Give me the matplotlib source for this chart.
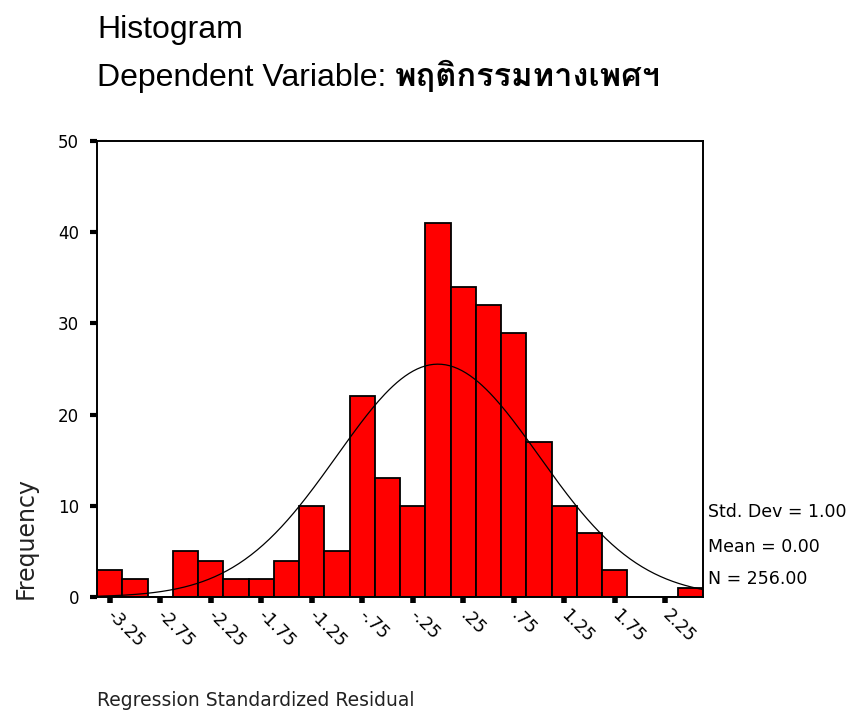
import numpy as np
import matplotlib
matplotlib.use("Agg")
import matplotlib.pyplot as plt
from matplotlib.transforms import ScaledTranslation

# histogram of regression standardized residuals (bin width .25)
bin_centers = [-3.25, -3.0, -2.75, -2.5, -2.25, -2.0, -1.75, -1.5, -1.25, -1.0,
               -0.75, -0.5, -0.25, 0.0, 0.25, 0.5, 0.75, 1.0, 1.25, 1.5,
               1.75, 2.0, 2.25, 2.5]
freq = [3, 2, 0, 5, 4, 2, 2, 4, 10, 5,
        22, 13, 10, 41, 34, 32, 29, 17, 10, 7,
        3, 0, 0, 1]
bin_width = 0.25

tick_pos = [-3.25, -2.75, -2.25, -1.75, -1.25, -0.75, -0.25, 0.25, 0.75, 1.25, 1.75, 2.25]
tick_labels = ["-3.25", "-2.75", "-2.25", "-1.75", "-1.25", "-.75", "-.25",
               ".25", ".75", "1.25", "1.75", "2.25"]

std_dev = 1.00
mean = 0.00
n = 256

fig = plt.figure(figsize=(8.5, 7.17), dpi=100)
ax = fig.add_axes([97 / 850, 1 - 597 / 717, 606 / 850, 456 / 717])

ax.bar(bin_centers, freq, width=bin_width, color="#ff0000", edgecolor="black", linewidth=1.3)

# fitted normal curve
xs = np.linspace(-3.375, 2.625, 300)
pdf = np.exp(-0.5 * ((xs - mean) / std_dev) ** 2) / (std_dev * np.sqrt(2 * np.pi))
ax.plot(xs, n * bin_width * pdf, color="black", linewidth=0.9)

ax.set_xlim(-3.375, 2.625)
ax.set_ylim(0, 50)
ax.set_yticks([0, 10, 20, 30, 40, 50])
ax.set_xticks(tick_pos)
ax.set_xticklabels(tick_labels, rotation=-45, ha="left", va="center",
                   rotation_mode="anchor", fontsize=12.5, family="DejaVu Sans")
for lbl in ax.get_xticklabels():
    lbl.set_transform(lbl.get_transform() + ScaledTranslation(0.1, 0, fig.dpi_scale_trans))
ax.tick_params(axis="x", length=4, width=4, pad=7, direction="out")
ax.tick_params(axis="y", length=5, width=3, pad=8, direction="out", labelsize=12)
for s in ax.spines.values():
    s.set_linewidth(1.4)

# titles
fig.text(97 / 850, 1 - 38 / 717, "Histogram", fontsize=23, family="Liberation Sans",
         va="baseline")
dep = fig.text(97 / 850, 1 - 86 / 717, "Dependent Variable: ", fontsize=23,
               family="Liberation Sans", va="baseline")
fig.canvas.draw()
bb = dep.get_window_extent()
fig.text(bb.x1 / fig.bbox.width, 1 - 86 / 717, "พฤติกรรมทางเพศฯ", fontsize=23.5,
         family=["Loma", "DejaVu Sans"], weight="bold", va="baseline")

fig.text(26 / 850, 1 - 538 / 717, "Frequency", rotation=90, fontsize=17,
         ha="center", va="center", color="#222222")
fig.text(97 / 850, 1 - 700 / 717, "Regression Standardized Residual", fontsize=13.5,
         va="center", color="#222222")

stats = [f"Std. Dev = {std_dev:.2f}", f"Mean = {mean:.2f}", f"N = {n:.2f}"]
for txt, ypix in zip(stats, [512, 547, 579]):
    fig.text(708 / 850, 1 - ypix / 717, txt, fontsize=12.5, va="center")

fig.savefig("out.png", dpi=100)
